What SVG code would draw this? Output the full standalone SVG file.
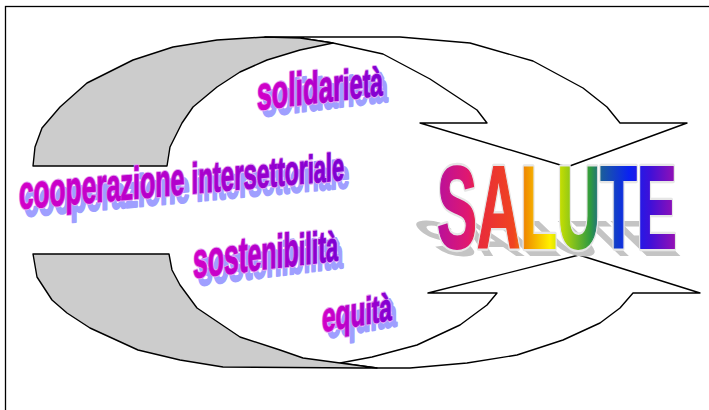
<svg xmlns="http://www.w3.org/2000/svg" width="709" height="410" viewBox="0 0 709 410">
<defs>
<style>
.frame{fill:#ffffff;stroke:#000;stroke-width:1.3}
.band{fill:#ffffff;stroke:#000;stroke-width:1.4;stroke-linejoin:round}
.back{fill:#cccccc;stroke:#000;stroke-width:1.4;stroke-linejoin:round}
.lbl{font-family:"Liberation Sans",Arial,sans-serif;font-weight:bold}
.lbl-shadow{fill:#9f9fff;stroke:#9f9fff;stroke-width:2.5;stroke-linejoin:round}
.lbl-line{fill:#e3a6f2;stroke:#e3a6f2;stroke-width:3.2;stroke-linejoin:round}
.lbl-main{fill:url(#gLbl);stroke:url(#gLbl);stroke-width:1.1}
.big{font-family:"Liberation Sans",Arial,sans-serif;font-weight:bold;font-size:116px}
</style>
<linearGradient id="gLbl" x1="0" y1="0" x2="1" y2="0">
<stop offset="0" stop-color="#d200c8"/>
<stop offset="0.5" stop-color="#b000cc"/>
<stop offset="1" stop-color="#7e00d2"/>
</linearGradient>
<linearGradient id="gSal" gradientUnits="objectBoundingBox" x1="0" y1="0" x2="1" y2="0">
<stop offset="0" stop-color="#b8109c"/>
<stop offset="0.13" stop-color="#e01870"/>
<stop offset="0.17" stop-color="#e82a3c"/>
<stop offset="0.32" stop-color="#f04420"/>
<stop offset="0.37" stop-color="#f08e00"/>
<stop offset="0.47" stop-color="#fff000"/>
<stop offset="0.51" stop-color="#c8e000"/>
<stop offset="0.64" stop-color="#2e9a40"/>
<stop offset="0.69" stop-color="#1a5aa0"/>
<stop offset="0.80" stop-color="#0a22f2"/>
<stop offset="0.89" stop-color="#4010d8"/>
<stop offset="1" stop-color="#9a10b2"/>
</linearGradient>
</defs>

<rect class="frame" x="5.5" y="6.5" width="720" height="420"/>

<g id="connectors">
  <polygon id="arrow-top" class="band" points="265,37 400,37 470,43 533,61 583,88 607,107 620,123 687,123 567,167 420,123 487,123 477,110 430,79 383,54 333,43 300,38"/>
  <polygon id="arrow-top-back" class="back" points="33,166 35,147 42,128 60,107 87,83 133,60 173,47 217,40 265,37 300,38 333,43 300,50 267,60 240,72 217,87 193,107 182,123 170,147 167,166"/>
  <polygon id="arrow-bottom" class="band" points="340,363 377,368 410,368 467,363 517,355 563,340 600,323 620,308 633,293 700,293 579,255 428,293 497,293 487,305 460,325 417,345 372,357"/>
  <polygon id="arrow-bottom-back" class="back" points="33,254 169,254 172,270 180,285 197,308 240,337 280,350 303,358 340,363 377,368 360,368 223,367 180,360 138,350 90,328 67,313 52,300 37,277"/>
</g>

<g id="node-solidarieta" transform="translate(257,110) skewY(-6.8)">
  <text class="lbl lbl-shadow" x="5" y="7" textLength="126" lengthAdjust="spacingAndGlyphs"><tspan font-size="47">soli</tspan><tspan font-size="45">dar</tspan><tspan font-size="42">ie</tspan><tspan font-size="40">tà</tspan></text>
  <text class="lbl lbl-line" x="0" y="0" textLength="126" lengthAdjust="spacingAndGlyphs"><tspan font-size="47">soli</tspan><tspan font-size="45">dar</tspan><tspan font-size="42">ie</tspan><tspan font-size="40">tà</tspan></text>
  <text class="lbl lbl-main" x="0" y="0" textLength="126" lengthAdjust="spacingAndGlyphs"><tspan font-size="47">soli</tspan><tspan font-size="45">dar</tspan><tspan font-size="42">ie</tspan><tspan font-size="40">tà</tspan></text>
</g>

<g id="node-cooperazione" transform="translate(19,209) skewY(-5.1)">
  <text class="lbl lbl-shadow" x="5" y="8" textLength="325" lengthAdjust="spacingAndGlyphs"><tspan font-size="47">cooper</tspan><tspan font-size="45">azione </tspan><tspan font-size="43">inters</tspan><tspan font-size="41">ettor</tspan><tspan font-size="39">iale</tspan></text>
  <text class="lbl lbl-line" x="0" y="0" textLength="325" lengthAdjust="spacingAndGlyphs"><tspan font-size="47">cooper</tspan><tspan font-size="45">azione </tspan><tspan font-size="43">inters</tspan><tspan font-size="41">ettor</tspan><tspan font-size="39">iale</tspan></text>
  <text class="lbl lbl-main" x="0" y="0" textLength="325" lengthAdjust="spacingAndGlyphs"><tspan font-size="47">cooper</tspan><tspan font-size="45">azione </tspan><tspan font-size="43">inters</tspan><tspan font-size="41">ettor</tspan><tspan font-size="39">iale</tspan></text>
</g>

<g id="node-sostenibilita" transform="translate(193,278) skewY(-7)">
  <text class="lbl lbl-shadow" x="5" y="8" textLength="145" lengthAdjust="spacingAndGlyphs"><tspan font-size="50">sost</tspan><tspan font-size="47">enib</tspan><tspan font-size="44">ilit</tspan><tspan font-size="41">à</tspan></text>
  <text class="lbl lbl-line" x="0" y="0" textLength="145" lengthAdjust="spacingAndGlyphs"><tspan font-size="50">sost</tspan><tspan font-size="47">enib</tspan><tspan font-size="44">ilit</tspan><tspan font-size="41">à</tspan></text>
  <text class="lbl lbl-main" x="0" y="0" textLength="145" lengthAdjust="spacingAndGlyphs"><tspan font-size="50">sost</tspan><tspan font-size="47">enib</tspan><tspan font-size="44">ilit</tspan><tspan font-size="41">à</tspan></text>
</g>

<g id="node-equita" transform="translate(322,332) skewY(-10)">
  <text class="lbl lbl-shadow" x="5" y="7" textLength="70" lengthAdjust="spacingAndGlyphs"><tspan font-size="41">equ</tspan><tspan font-size="38">ità</tspan></text>
  <text class="lbl lbl-line" x="0" y="0" textLength="70" lengthAdjust="spacingAndGlyphs"><tspan font-size="41">equ</tspan><tspan font-size="38">ità</tspan></text>
  <text class="lbl lbl-main" x="0" y="0" textLength="70" lengthAdjust="spacingAndGlyphs"><tspan font-size="41">equ</tspan><tspan font-size="38">ità</tspan></text>
</g>

<g id="node-salute">
  <g transform="translate(443,256) skewX(46) scale(0.517,0.44)">
    <text class="big" x="0" y="0" fill="#c4c4c4">SALUTE</text>
  </g>
  <g transform="translate(437,248) scale(0.517,1)">
    <text class="big" x="0" y="0" fill="#e6e6e6" stroke="#e6e6e6" stroke-width="6.5" stroke-linejoin="round">SALUTE</text>
    <text class="big" x="0" y="0" fill="url(#gSal)" stroke="url(#gSal)" stroke-width="1.8">SALUTE</text>
  </g>
</g>
</svg>
